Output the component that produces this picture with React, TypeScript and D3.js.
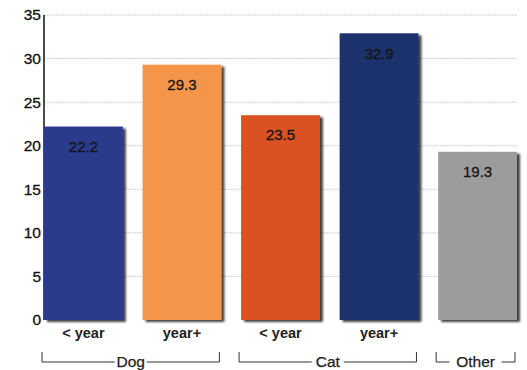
import React from "react";
import * as d3 from "d3";

const categories = ["< year", "year+", "< year", "year+", ""];
const values = [22.2, 29.3, 23.5, 32.9, 19.3];
const valueLabels = ["22.2", "29.3", "23.5", "32.9", "19.3"];
const barColors = ["#2c3b8c", "#f4954a", "#da5120", "#1d306c", "#9c9c9c"];
const groups = ["Dog", "Cat", "Other"];
const groupSpans = [[0, 1], [2, 3], [4, 4]];
const yTicks = [0, 5, 10, 15, 20, 25, 30, 35];

const W = 527;
const H = 370;
const left = 44;
const right = 517;
const baseY = 320;
const topY = 15;
const font = "Arial, 'Liberation Sans', sans-serif";

export default function App() {
  const x = d3
    .scaleBand<number>()
    .domain(values.map((_, i) => i))
    .range([left, right])
    .paddingInner(0.2)
    .paddingOuter(0);
  const y = d3.scaleLinear().domain([0, 35]).range([baseY, topY]);
  const bw = x.bandwidth();

  return (
    <svg
      width={W}
      height={H}
      style={{ position: "absolute", left: 0, top: 0, background: "#fff" }}
      fontFamily={font}
    >
      <defs>
        <filter id="shadow" x="-10%" y="-10%" width="130%" height="130%">
          <feGaussianBlur in="SourceAlpha" stdDeviation="1.2" />
          <feOffset dx="3" dy="2" result="b" />
          <feComponentTransfer>
            <feFuncA type="linear" slope="0.75" />
          </feComponentTransfer>
          <feMerge>
            <feMergeNode />
            <feMergeNode in="SourceGraphic" />
          </feMerge>
        </filter>
      </defs>

      {/* gridlines */}
      {yTicks
        .filter((t) => t > 0)
        .map((t) => (
          <line
            key={t}
            x1={left}
            x2={right}
            y1={y(t)}
            y2={y(t)}
            stroke="#d0d0d0"
            strokeWidth={1}
            strokeDasharray="2 1"
          />
        ))}

      {/* y axis */}
      <line x1={left} x2={left} y1={topY} y2={baseY} stroke="#111" strokeWidth={1.5} />
      {yTicks.map((t) => (
        <text
          key={t}
          x={left - 3}
          y={y(t)}
          dy="0.35em"
          textAnchor="end"
          fontSize={15.5}
          fill="#111"
          stroke="#111"
          strokeWidth={0.3}
        >
          {t}
        </text>
      ))}

      {/* bars */}
      {values.map((v, i) => (
        <rect
          key={i}
          x={x(i)}
          y={y(v)}
          width={bw}
          height={baseY - y(v)}
          fill={barColors[i]}
          filter="url(#shadow)"
        />
      ))}

      {/* baseline */}
      <line
        x1={left}
        x2={right + 1}
        y1={baseY + 1}
        y2={baseY + 1}
        stroke="#000"
        strokeWidth={2.5}
        filter="url(#shadow)"
      />

      {/* value labels */}
      {values.map((v, i) => (
        <text
          key={i}
          x={(x(i) as number) + bw / 2}
          y={y(v) + 20}
          dy="0.35em"
          textAnchor="middle"
          fontSize={15}
          fill="#151515"
          stroke="#151515"
          strokeWidth={0.3}
        >
          {valueLabels[i]}
        </text>
      ))}

      {/* category labels */}
      {categories.map((c, i) => (
        <text
          key={i}
          x={(x(i) as number) + bw / 2}
          y={333}
          dy="0.35em"
          textAnchor="middle"
          fontSize={14.5}
          fontWeight="bold"
          fill="#222"
        >
          {c}
        </text>
      ))}

      {/* group brackets */}
      {groups.map((g, gi) => {
        const [a, b] = groupSpans[gi];
        const x0 = (x(a) as number) - 2;
        const x1 = (x(b) as number) + bw - 2;
        const cx = (x0 + x1) / 2;
        const ly = 362;
        const half = g.length * 5 + 1;
        return (
          <g key={g}>
            <path
              d={`M${x0},${ly - 10}V${ly}H${cx - half}M${cx + half},${ly}H${x1}V${ly - 10}`}
              fill="none"
              stroke="#333"
              strokeWidth={1}
            />
            <text
              x={cx}
              y={ly}
              dy="0.35em"
              textAnchor="middle"
              fontSize={15.5}
              fill="#222"
              stroke="#222"
              strokeWidth={0.25}
            >
              {g}
            </text>
          </g>
        );
      })}
    </svg>
  );
}
